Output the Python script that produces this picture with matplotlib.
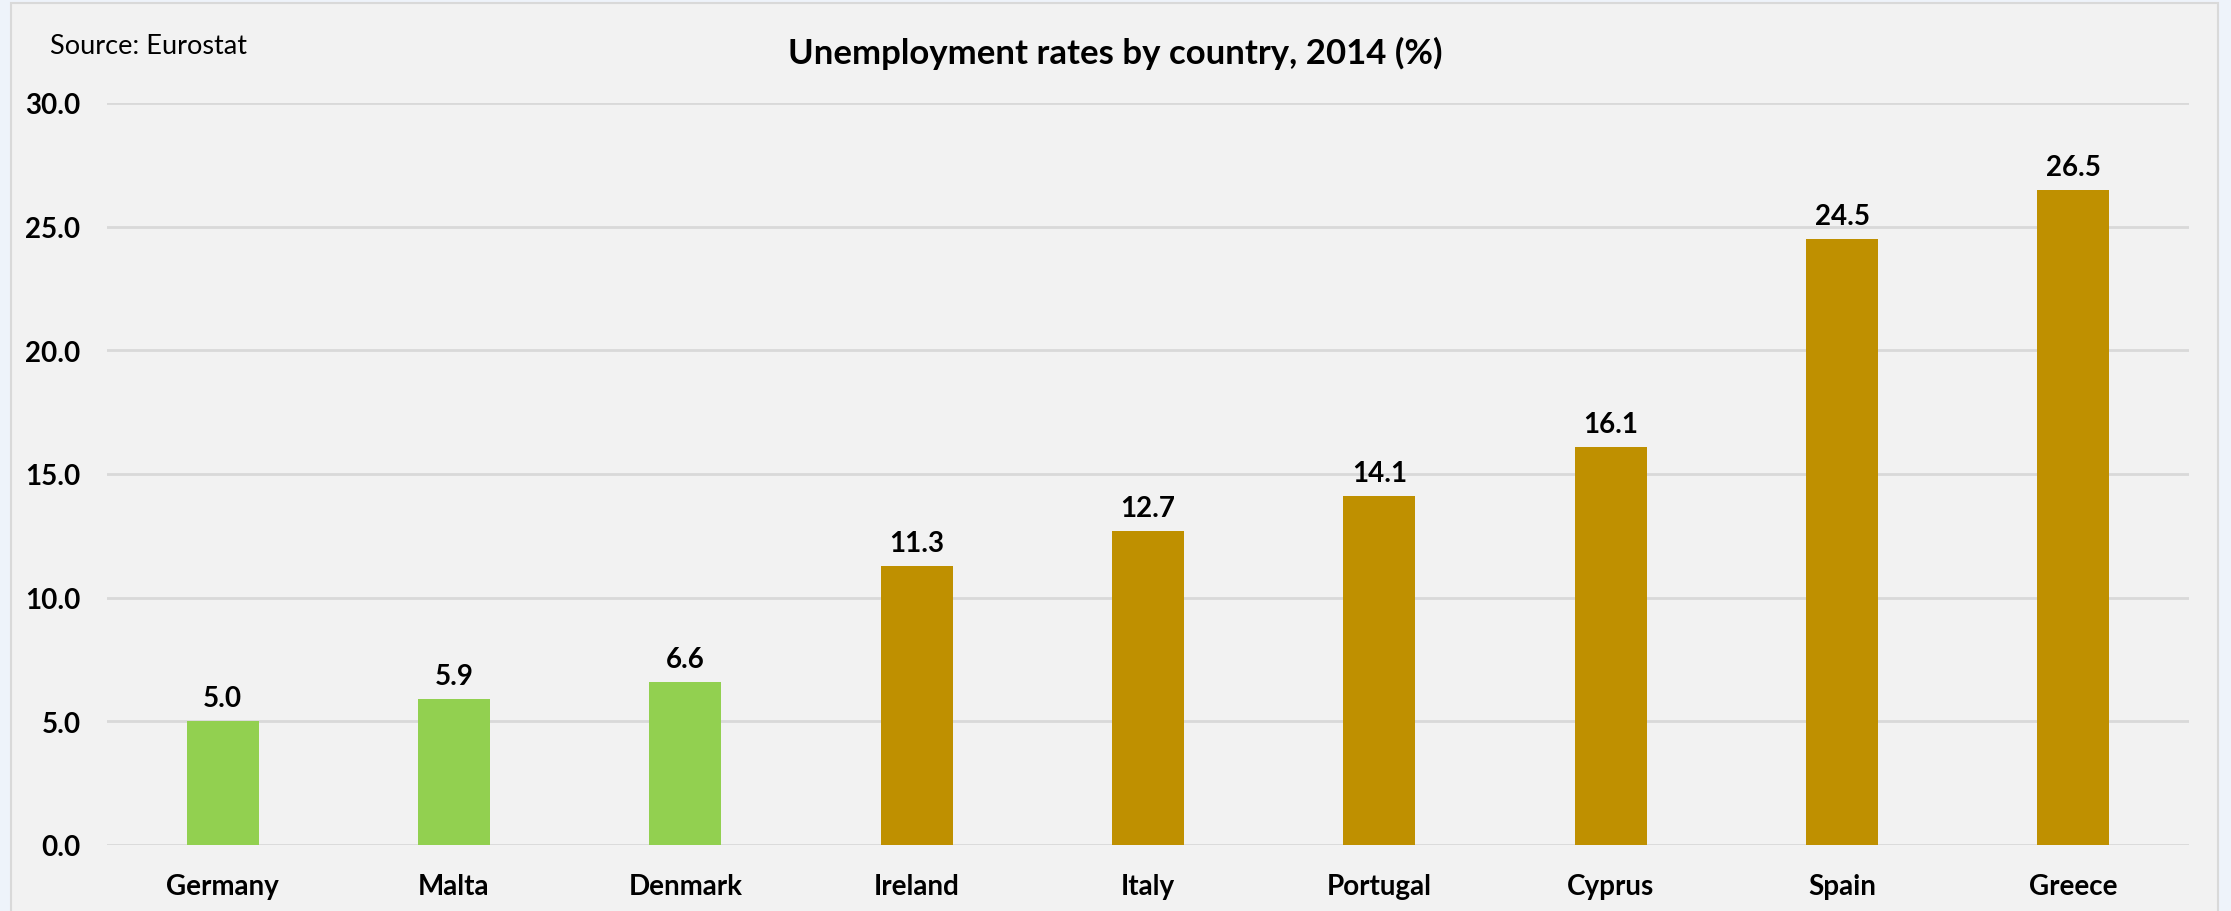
import matplotlib.pyplot as plt
from matplotlib.patches import Rectangle

# Unemployment rates by country, 2014 (%), source: Eurostat
countries = ['Germany', 'Malta', 'Denmark', 'Ireland', 'Italy',
             'Portugal', 'Cyprus', 'Spain', 'Greece']
rates = [5.0, 5.9, 6.6, 11.3, 12.7, 14.1, 16.1, 24.5, 26.5]
low_group = ['Germany', 'Malta', 'Denmark']
y_ticks = [0, 5, 10, 15, 20, 25, 30]

GREEN = '#92D050'
GOLD = '#BF9000'
PANEL = '#F2F2F2'
GRID = '#D9D9D9'

plt.rcParams['font.family'] = ['Lato', 'DejaVu Sans']

W, H = 2231, 912
fig = plt.figure(figsize=(W / 100, H / 100), dpi=100)
fig.patch.set_facecolor('#EEF3FA')

# chart panel, kept behind the axes
fig.patches.append(Rectangle((11 / W, -0.01), (2218 - 11) / W, (H - 4) / H + 0.01,
                             transform=fig.transFigure, facecolor=PANEL,
                             edgecolor=GRID, linewidth=1.5, zorder=-10))

ax = fig.add_axes([107 / W, (H - 846) / H, (2189 - 107) / W, (846 - 104) / H])
ax.set_facecolor('none')

colors = [GREEN if c in low_group else GOLD for c in countries]
x = range(len(countries))
bars = ax.bar(x, rates, width=0.31, color=colors, zorder=3)

for rect, v in zip(bars, rates):
    ax.annotate(f'{v:.1f}', (rect.get_x() + rect.get_width() / 2, v),
                xytext=(0, 10), textcoords='offset pixels',
                ha='center', va='bottom', fontsize=20, fontweight='bold')

ax.set_xlim(-0.5, len(countries) - 0.5)
ax.set_ylim(0, 30)
ax.set_yticks(y_ticks)
ax.set_yticklabels([f'{t:.1f}' for t in y_ticks], fontsize=20, fontweight='bold')
ax.set_xticks(list(x))
ax.set_xticklabels(countries, fontsize=20, fontweight='bold')
ax.tick_params(axis='both', length=0)
ax.tick_params(axis='y', pad=19)
ax.tick_params(axis='x', pad=20)

ax.yaxis.grid(True, color=GRID, linewidth=2, zorder=0)
ax.set_axisbelow(True)
for s in ax.spines.values():
    s.set_visible(False)

fig.text(0.5, (H - 53) / H, 'Unemployment rates by country, 2014 (%)',
         ha='center', va='center', fontsize=25, fontweight='bold')
fig.text(50 / W, (H - 47) / H, 'Source: Eurostat', ha='left', va='center',
         fontsize=19.5)

fig.savefig('out.png', dpi=100, facecolor=fig.get_facecolor())
